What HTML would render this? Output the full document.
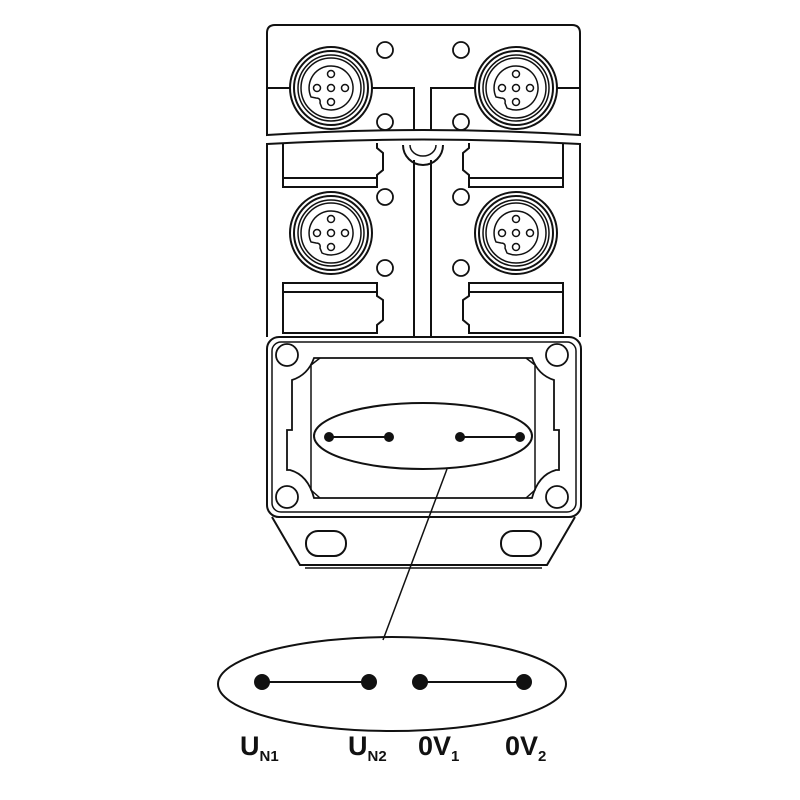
<!DOCTYPE html>
<html><head><style>body{margin:0;background:#fff}svg{display:block}</style></head><body>
<svg width="800" height="800" viewBox="0 0 800 800" xmlns="http://www.w3.org/2000/svg" fill="none" stroke="#111" stroke-width="2">
<defs>
<g id="conn">
<circle r="41" fill="#fff"/><circle r="37"/><circle r="33" stroke-width="1.5"/><circle r="30" stroke-width="1.5"/>
<path d="M-9,20 A22,22 0 1 0 -20,9 L-15,10 Q-10,10 -11,15 Z" stroke-width="1.5"/>
<circle r="3.5" cx="0" cy="-14" stroke-width="1.5"/><circle r="3.5" stroke-width="1.5"/><circle r="3.5" cx="-14" stroke-width="1.5"/><circle r="3.5" cx="14" stroke-width="1.5"/><circle r="3.5" cy="14" stroke-width="1.5"/>
</g>
</defs>
<!-- top section -->
<path d="M267,135 L267,33 Q267,25 275,25 L572,25 Q580,25 580,33 L580,135 Q423,125 267,135Z"/>
<path d="M267,88 L414,88 L414,130 M580,88 L431,88 L431,130"/>
<!-- lower body -->
<path d="M267,337 L267,144 Q423,135 580,144 L580,337"/>
<path d="M414,160 L414,336 M431,160 L431,336"/>
<path d="M403,145 A20,20 0 0 0 443,145"/>
<path d="M410,145 A13,11 0 0 0 436,145" stroke-width="1.5"/>
<use href="#conn" x="331" y="88"/><use href="#conn" x="516" y="88"/>
<use href="#conn" x="331" y="233"/><use href="#conn" x="516" y="233"/>
<g stroke-width="1.8">
<circle cx="385" cy="50" r="8"/><circle cx="461" cy="50" r="8"/>
<circle cx="385" cy="122" r="8"/><circle cx="461" cy="122" r="8"/>
<circle cx="385" cy="197" r="8"/><circle cx="461" cy="197" r="8"/>
<circle cx="385" cy="268" r="8"/><circle cx="461" cy="268" r="8"/>
</g>
<!-- rect slots -->
<path d="M283,143 L283,187 L377,187 L377,175 L383,170 L383,153 L377,148 L377,143 M283,178 L377,178"/>
<path d="M563,143 L563,187 L469,187 L469,175 L463,170 L463,153 L469,148 L469,143 M563,178 L469,178"/>
<path d="M283,283 L377,283 L377,296 L383,300 L383,320 L377,325 L377,333 L283,333 Z M283,292 L377,292"/>
<path d="M563,283 L469,283 L469,296 L463,300 L463,320 L469,325 L469,333 L563,333 Z M563,292 L469,292"/>
<!-- bottom frame -->
<rect x="267" y="337" width="314" height="180" rx="12"/>
<rect x="272" y="342" width="304" height="170" rx="9" stroke-width="1.5"/>
<path d="M314,358 L532,358 Q538,375 554,380 L554,430 L559,430 L559,470 L556,470 Q538,475 532,498 L314,498 Q308,475 290,470 L287,470 L287,430 L292,430 L292,380 Q308,375 314,358Z" stroke-width="1.8"/>
<path d="M320,358 L311,365 L311,490 L320,498 M526,358 L535,365 L535,490 L526,498" stroke-width="1.5"/>
<g stroke-width="1.8">
<circle cx="287" cy="355" r="11"/><circle cx="557" cy="355" r="11"/>
<circle cx="287" cy="497" r="11"/><circle cx="557" cy="497" r="11"/>
</g>
<!-- foot -->
<path d="M272,517 L300,565 L547,565 L575,517"/>
<path d="M305,568 L542,568" stroke-width="1.5"/>
<rect x="306" y="531" width="40" height="25" rx="12"/>
<rect x="501" y="531" width="40" height="25" rx="12"/>
<!-- ellipses -->
<ellipse cx="423" cy="436" rx="109" ry="33"/>
<path d="M329,437 L389,437 M460,437 L520,437"/>
<g fill="#111" stroke="none"><circle cx="329" cy="437" r="5"/><circle cx="389" cy="437" r="5"/><circle cx="460" cy="437" r="5"/><circle cx="520" cy="437" r="5"/></g>
<path d="M447,469 L383,640" stroke-width="1.5"/>
<ellipse cx="392" cy="684" rx="174" ry="47"/>
<path d="M262,682 L369,682 M420,682 L524,682"/>
<g fill="#111" stroke="none"><circle cx="262" cy="682" r="8"/><circle cx="369" cy="682" r="8"/><circle cx="420" cy="682" r="8"/><circle cx="524" cy="682" r="8"/></g>
<g fill="#111" stroke="none" font-family="Liberation Sans, sans-serif" font-weight="bold">
<text x="240" y="755" font-size="27">U<tspan font-size="15" dy="6">N1</tspan></text>
<text x="348" y="755" font-size="27">U<tspan font-size="15" dy="6">N2</tspan></text>
<text x="418" y="755" font-size="27">0V<tspan font-size="15" dy="6">1</tspan></text>
<text x="505" y="755" font-size="27">0V<tspan font-size="15" dy="6">2</tspan></text>
</g>
</svg>
</body></html>
